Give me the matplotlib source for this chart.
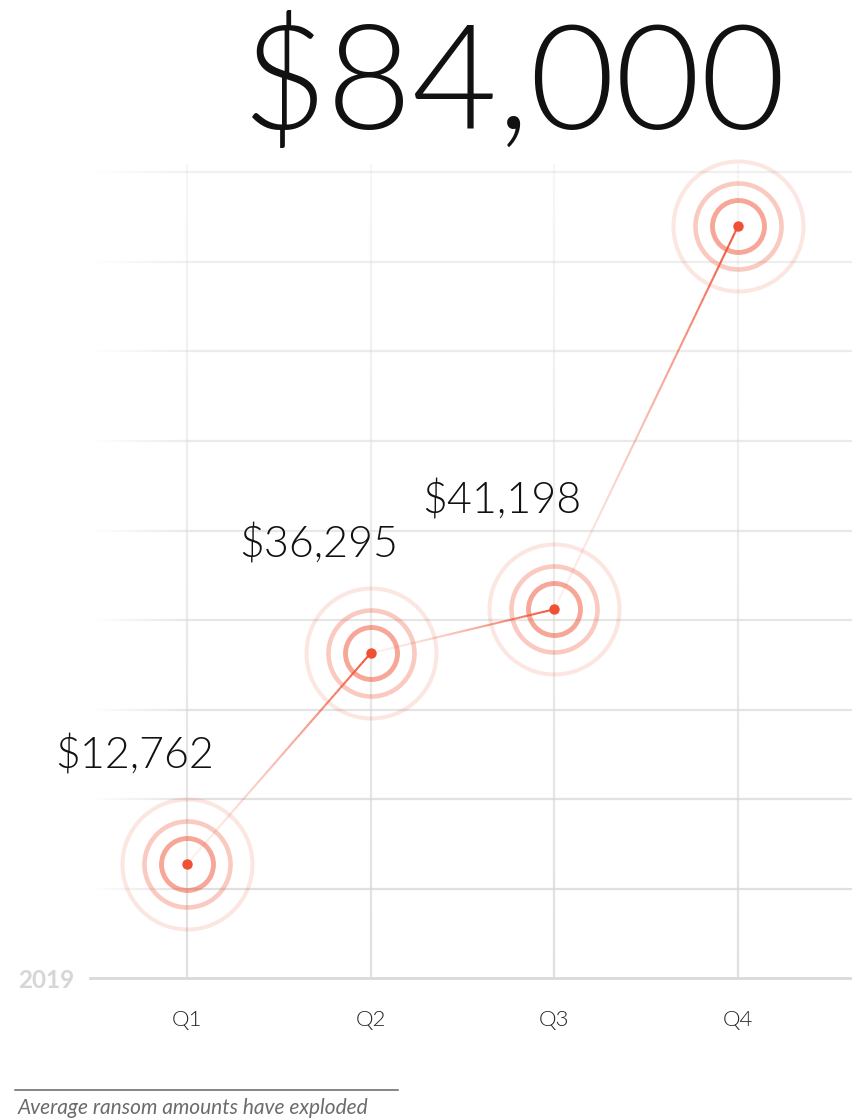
import numpy as np
import matplotlib
matplotlib.use("Agg")
import matplotlib.pyplot as plt
from matplotlib.collections import LineCollection
from matplotlib.colors import to_rgba

quarters = ["Q1", "Q2", "Q3", "Q4"]
ransom = [12762, 36295, 41198, 84000]
value_labels = ["$12,762", "$36,295", "$41,198"]
headline = "$84,000"
year = "2019"
caption = "Average ransom amounts have exploded"
grid_values = [10000 * k for k in range(1, 10)]

RED = "#f05033"
W, H, DPI = 852, 1120, 100

plt.rcParams["font.family"] = ["Lato", "DejaVu Sans"]

fig = plt.figure(figsize=(W / DPI, H / DPI), dpi=DPI)
ax = fig.add_axes([90 / W, 142 / H, 762 / W, 978 / H])
step_x = 183.67
step_y = 89.5
ax.set_xlim(-97 / step_x, 3 + 114 / step_x)
ax.set_ylim(0, 978 / step_y * 10000)

for s in ["top", "right", "left"]:
    ax.spines[s].set_visible(False)
ax.spines["bottom"].set_color("#d9d9d9")
ax.spines["bottom"].set_linewidth(2.0)
ax.set_yticks([])
x = np.arange(len(quarters))
ax.set_xticks(x, quarters)
ax.tick_params(axis="x", length=0, pad=23, labelsize=16, labelcolor="#222222")
for t in ax.get_xticklabels():
    t.set_fontweight(300)

# horizontal gridlines, fading in from the left and lighter toward the top
x0, x1 = ax.get_xlim()
xs = np.linspace(x0, x1, 200)
fade_end = x0 + 100 / step_x
for i, gv in enumerate(grid_values):
    base = 0.75 - 0.05 * i
    segs, cols = [], []
    for a, b in zip(xs[:-1], xs[1:]):
        segs.append([(a, gv), (b, gv)])
        f = min(1.0, (a - x0) / (fade_end - x0))
        cols.append(to_rgba("#d6d6d6", base * f))
    ax.add_collection(LineCollection(segs, colors=cols, linewidths=1.6, zorder=1))

# vertical gridlines, lighter toward the top
ys = np.linspace(0, 91000, 120)
for xi in x:
    segs, cols = [], []
    for a, b in zip(ys[:-1], ys[1:]):
        segs.append([(xi, a), (xi, b)])
        cols.append(to_rgba("#d6d6d6", 0.75 - 0.55 * a / 91000))
    ax.add_collection(LineCollection(segs, colors=cols, linewidths=1.6, zorder=1))

# rings
for r_d, alpha, lw in [(130, 0.14, 2.9), (86, 0.3, 3.3), (52, 0.5, 3.5)]:
    ax.plot(x, ransom, linestyle="none", marker="o", markersize=r_d * 0.72,
            mfc="none", mec=to_rgba(RED, alpha), mew=lw, zorder=2)

# connecting segments, light at the start, strong at the end
n = 60
for i in range(len(x) - 1):
    t = np.linspace(0, 1, n + 1)
    px = x[i] + (x[i + 1] - x[i]) * t
    py = ransom[i] + (ransom[i + 1] - ransom[i]) * t
    segs = [[(px[k], py[k]), (px[k + 1], py[k + 1])] for k in range(n)]
    cols = [to_rgba(RED, 0.08 + 0.92 * t[k] ** 1.5) for k in range(n)]
    ax.add_collection(LineCollection(segs, colors=cols, linewidths=1.5, zorder=3))

ax.plot(x, ransom, linestyle="none", marker="o", markersize=7.5, color=RED,
        mec="none", zorder=4)

for i, lab in enumerate(value_labels):
    ax.annotate(lab, xy=(x[i], ransom[i]), xytext=(27, 108),
                textcoords="offset pixels", ha="right", va="center",
                fontsize=31, fontweight=300, color="#111111")

fig.text(513 / W, 1 - 86 / H, headline, ha="center", va="center",
         fontsize=106, fontweight=300, color="#111111")
fig.text(18 / W, 1 - 980 / H, year, ha="left", va="center",
         fontsize=17.5, fontweight="bold", color="#d6d6d6")
fig.add_artist(plt.Line2D([15 / W, 398 / W], [1 - 1090 / H, 1 - 1090 / H],
                          color="#666666", linewidth=1.1))
fig.text(18 / W, 1 - 1108 / H, caption, ha="left", va="center",
         fontsize=15, style="italic", color="#6b6b6b")

fig.savefig("out.png", dpi=DPI)
